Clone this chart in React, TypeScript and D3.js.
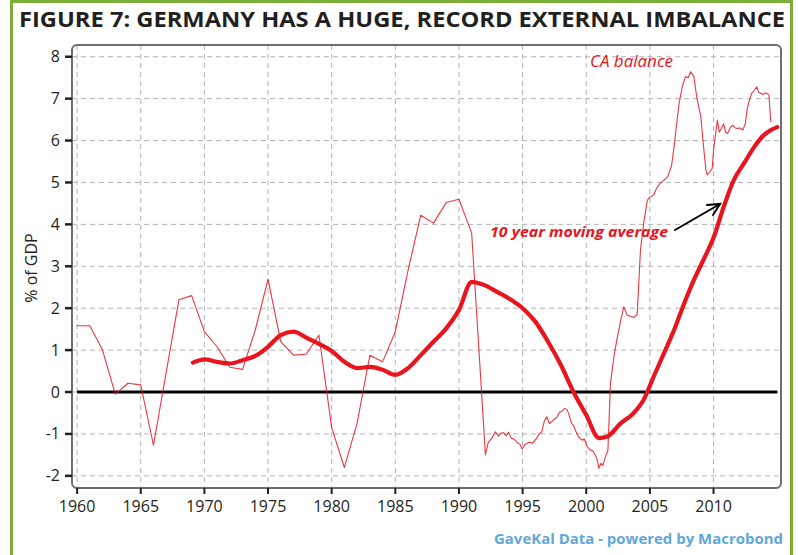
import { scaleLinear, line, range, curveMonotoneX } from "d3";

// CA balance, % of GDP (annual to 1991, roughly quarterly after)
const caYears = [
  1960, 1961, 1962, 1963, 1964, 1965, 1966, 1967, 1968, 1969, 1970, 1971, 1972, 1973, 1974,
  1975, 1976, 1977, 1978, 1979, 1980, 1981, 1982, 1983, 1984, 1985, 1986, 1987, 1988, 1989,
  1990, 1991, 1992.08, 1992.3, 1992.6, 1992.86, 1993.1, 1993.3, 1993.5, 1993.7, 1993.9,
  1994.1, 1994.3, 1994.57, 1994.8, 1994.96, 1995.2, 1995.5, 1995.8, 1996.1, 1996.3, 1996.5,
  1996.7, 1996.9, 1997.1, 1997.3, 1997.5, 1997.7, 1997.9, 1998.1, 1998.3, 1998.5, 1998.7,
  1998.85, 1999.0, 1999.2, 1999.35, 1999.5, 1999.7, 1999.85, 2000.07, 2000.3, 2000.5, 2000.7,
  2000.85, 2001.0, 2001.15, 2001.3, 2001.45, 2001.6, 2001.7, 2001.9, 2002.2, 2002.4, 2002.7,
  2002.95, 2003.2, 2003.5, 2003.75, 2004.0, 2004.26, 2004.5, 2004.8, 2005.0, 2005.3, 2005.5,
  2005.8, 2006.1, 2006.4, 2006.7, 2006.9, 2007.1, 2007.3, 2007.55, 2007.8, 2008.0, 2008.2,
  2008.45, 2008.7, 2009.0, 2009.2, 2009.4, 2009.5, 2009.7, 2009.9, 2010.0, 2010.3, 2010.45,
  2010.55, 2010.8, 2010.95, 2011.1, 2011.3, 2011.5, 2011.7, 2011.9, 2012.1, 2012.3, 2012.5,
  2012.65, 2012.85, 2013.0, 2013.2, 2013.4, 2013.55, 2013.7, 2013.9, 2014.1, 2014.35, 2014.5,
];
const caValues = [
  1.58, 1.58, 1.0, -0.05, 0.21, 0.17, -1.27, 0.47, 2.2, 2.3, 1.44, 1.08, 0.59, 0.54, 1.48,
  2.69, 1.2, 0.88, 0.9, 1.36, -0.85, -1.8, -0.74, 0.88, 0.72, 1.44, 2.9, 4.22, 4.03, 4.52,
  4.6, 3.79, -1.5, -1.2, -1.1, -0.95, -1.05, -0.98, -0.97, -1.05, -0.96,
  -1.1, -1.12, -1.2, -1.25, -1.36, -1.25, -1.2, -1.22, -1.1, -1.0, -0.95,
  -0.7, -0.59, -0.75, -0.7, -0.65, -0.6, -0.48, -0.45, -0.39, -0.42, -0.6,
  -0.75, -0.8, -0.95, -1.05, -1.1, -1.15, -1.12, -1.3, -1.38, -1.4, -1.5,
  -1.6, -1.82, -1.7, -1.75, -1.6, -1.46, -1.4, 0.2, 0.9, 1.24, 1.7,
  2.03, 1.84, 1.8, 1.78, 1.85, 3.39, 4.0, 4.58, 4.65, 4.7, 4.85,
  4.98, 5.05, 5.14, 5.4, 5.85, 6.4, 6.89, 7.3, 7.53, 7.5, 7.64,
  7.53, 7.0, 6.57, 5.9, 5.3, 5.18, 5.25, 5.34, 5.77, 6.49, 6.2,
  6.25, 6.4, 6.2, 6.17, 6.3, 6.37, 6.3, 6.29, 6.3, 6.25, 6.4,
  6.77, 7.0, 7.13, 7.2, 7.28, 7.15, 7.13, 7.1, 7.14, 7.09, 6.45,
];

// 10 year moving average
const maYears = [
  1969.1, 1970, 1971, 1972, 1973, 1974, 1975, 1976, 1977, 1978, 1979, 1980, 1981, 1982, 1983,
  1984, 1985, 1986, 1987, 1988, 1989, 1990, 1991, 1992, 1993, 1994, 1995, 1996, 1997, 1998,
  1999, 2000, 2001, 2001.6, 2002.7, 2003.7, 2004.5, 2005.3, 2006.1, 2006.9, 2007.7, 2008.45,
  2009.2, 2010.0, 2010.8, 2011.6, 2012.4, 2013.2, 2013.95, 2014.5, 2015.0,
];
const maValues = [
  0.7, 0.78, 0.72, 0.68, 0.76, 0.86, 1.08, 1.36, 1.44, 1.3, 1.15, 0.98, 0.72, 0.57, 0.6,
  0.53, 0.41, 0.57, 0.88, 1.2, 1.52, 1.96, 2.63, 2.55, 2.39, 2.22, 2.0, 1.68, 1.2, 0.65,
  0.0, -0.55, -1.1, -1.07, -0.75, -0.51, -0.19, 0.37, 0.92, 1.48, 2.12, 2.67,
  3.15, 3.68, 4.42, 5.06, 5.46, 5.85, 6.13, 6.25, 6.32,
];

const xTicks = range(1960, 2011, 5);
const yTicks = range(-2, 9, 1);

const W = 798;
const H = 555;
const plot = { left: 72, right: 781, top: 45, bottom: 488 };
const font = "'Open Sans', 'DejaVu Sans', sans-serif";
const red = "#e8141e";

export default function App() {
  const x = scaleLinear().domain([1959.6, 2015.3]).range([plot.left, plot.right]);
  const y = scaleLinear().domain([-2.29, 8.28]).range([plot.bottom, plot.top]);

  const caPath =
    line<number>()
      .x((d) => x(caYears[d]))
      .y((d) => y(caValues[d]))(range(caYears.length)) || "";
  const maPath =
    line<number>()
      .curve(curveMonotoneX)
      .x((d) => x(maYears[d]))
      .y((d) => y(maValues[d]))(range(maYears.length)) || "";

  return (
    <svg
      width={W}
      height={H}
      style={{ position: "absolute", left: 0, top: 0, background: "#fff" }}
      fontFamily={font}
    >
      <defs>
        <clipPath id="plotClip">
          <rect x={plot.left} y={plot.top} width={plot.right - plot.left} height={plot.bottom - plot.top} />
        </clipPath>
      </defs>
      {/* green frame */}
      <rect x={11.5} y={1.5} width={780} height={H + 10} fill="none" stroke="#7dae3a" strokeWidth={3} />

      <text
        x={19}
        y={27}
        fontSize={22}
        fontWeight={700}
        fill="#231f20"
        textLength={766}
        lengthAdjust="spacingAndGlyphs"
      >
        FIGURE 7: GERMANY HAS A HUGE, RECORD EXTERNAL IMBALANCE
      </text>

      {/* grid */}
      <g stroke="#b3b3b3" strokeWidth={1} strokeDasharray="5,4">
        {xTicks.map((t) => (
          <line key={"gx" + t} x1={x(t)} x2={x(t)} y1={plot.top} y2={plot.bottom} />
        ))}
        {yTicks.map((t) => (
          <line key={"gy" + t} x1={plot.left} x2={plot.right} y1={y(t)} y2={y(t)} />
        ))}
      </g>

      {/* zero line */}
      <line x1={x(1960)} x2={x(2015)} y1={y(0)} y2={y(0)} stroke="#000" strokeWidth={3} />

      <g clipPath="url(#plotClip)" fill="none" strokeLinejoin="round" strokeLinecap="round">
        <path d={caPath} stroke={red} strokeWidth={1.1} opacity={0.85} />
        <path d={maPath} stroke={red} strokeWidth={4.2} />
      </g>

      {/* plot frame */}
      <rect
        x={plot.left}
        y={plot.top}
        width={plot.right - plot.left}
        height={plot.bottom - plot.top}
        rx={5}
        fill="none"
        stroke="#6d6e71"
        strokeWidth={2}
      />

      {/* y axis */}
      {yTicks.map((t) => (
        <g key={"ty" + t}>
          <line x1={plot.left - 7} x2={plot.left} y1={y(t)} y2={y(t)} stroke="#231f20" strokeWidth={2.5} />
          <text x={plot.left - 12} y={y(t) + 5.5} fontSize={16} textAnchor="end" fill="#231f20">
            {t < 0 ? "-" + Math.abs(t) : t}
          </text>
        </g>
      ))}
      {/* x axis */}
      {xTicks.map((t) => (
        <g key={"tx" + t}>
          <line x1={x(t)} x2={x(t)} y1={plot.bottom} y2={plot.bottom + 6} stroke="#231f20" strokeWidth={2} />
          <text x={x(t)} y={plot.bottom + 24} fontSize={16} textAnchor="middle" fill="#231f20">
            {t}
          </text>
        </g>
      ))}

      <text
        transform={`translate(37,268) rotate(-90)`}
        fontSize={16}
        textAnchor="middle"
        fill="#231f20"
      >
        % of GDP
      </text>

      {/* annotations */}
      <text x={590} y={67} fontSize={16} fontStyle="italic" fill={red} textLength={83} lengthAdjust="spacingAndGlyphs">
        CA balance
      </text>
      <text
        x={490}
        y={237}
        fontSize={15}
        fontStyle="italic"
        fontWeight={700}
        fill={red}
        textLength={178}
        lengthAdjust="spacingAndGlyphs"
      >
        10 year moving average
      </text>
      <g stroke="#000" strokeWidth={2} fill="none" strokeLinecap="round">
        <line x1={675} y1={230} x2={720} y2={204} />
        <polyline points="707,205 720,204 713,215" />
      </g>

      <text
        x={783}
        y={544}
        fontSize={15}
        fontWeight={700}
        fill="#5fa8dc"
        textAnchor="end"
        textLength={289}
        lengthAdjust="spacingAndGlyphs"
      >
        GaveKal Data - powered by Macrobond
      </text>
    </svg>
  );
}
